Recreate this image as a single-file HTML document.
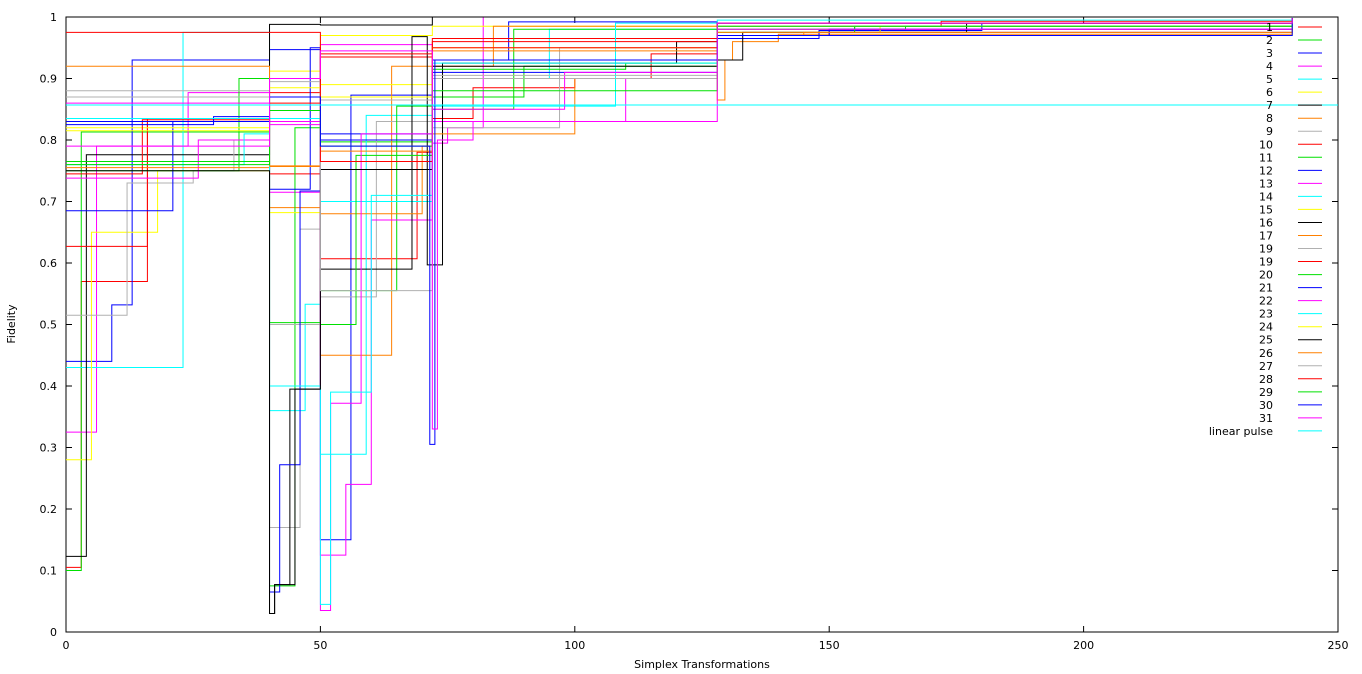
<!DOCTYPE html>
<html><head><meta charset="utf-8">
<style>
html,body{margin:0;padding:0;background:#fff;}
svg{display:block;font-family:"DejaVu Sans","Liberation Sans",sans-serif;font-size:11px;}
</style></head>
<body>
<svg id="chart" width="1362" height="674" xmlns="http://www.w3.org/2000/svg">
<g id="grid"></g>
<g id="plot"></g>
<g id="legend"></g>
<text x="702" y="668" text-anchor="middle">Simplex Transformations</text>
<text x="15" y="324" text-anchor="middle" transform="rotate(-90 15 324)">Fidelity</text>
</svg>
<script>
const xTicks = [0,50,100,150,200,250];
const yTicks = [0,0.1,0.2,0.3,0.4,0.5,0.6,0.7,0.8,0.9,1];
const seriesLabels = ["1","2","3","4","5","6","7","8","9","10","11","12","13","14","15","16","17","19","19","20","21","22","23","24","25","26","27","28","29","30","31","linear pulse"];
const palette = ["#ff0000","#00e000","#0000ff","#ff00ff","#00ffff","#ffff00","#000000","#ff8000","#b0b0b0"];
const s1=[[0,0.105],[3,0.57],[16,0.835],[40,0.745],[50,0.607],[69,0.78],[72,0.835],[80,0.885],[100,0.9],[115,0.94],[128,0.985],[172,0.993],[241,0.997]];
const s2=[[0,0.1],[3,0.813],[40,0.848],[50,0.797],[72,0.87],[90,0.92],[128,0.98],[155,0.985],[241,0.997]];
const s3=[[0,0.44],[9,0.532],[13,0.93],[40,0.947],[50,0.15],[56,0.873],[72,0.93],[87,0.992],[128,0.97],[148,0.978],[180,0.99],[241,0.998]];
const s4=[[0,0.325],[6,0.79],[24,0.877],[40,0.715],[50,0.955],[72,0.795],[75,0.82],[82,1],[241,1]];
const s5=[[0,0.43],[23,0.975],[40,0.36],[47,0.533],[50,0.289],[59,0.84],[72,0.9],[95,0.98],[128,0.99],[241,0.998]];
const s6=[[0,0.28],[5,0.65],[18,0.75],[40,0.912],[50,0.97],[72,0.985],[128,0.975],[160,0.985],[241,0.997]];
const s7=[[0,0.123],[4,0.776],[40,0.988],[50,0.987],[72,1],[241,1]];
const s8=[[0,0.92],[40,0.69],[50,0.45],[64,0.92],[72,0.92],[84,0.985],[128,0.865],[129.5,0.93],[131,0.96],[140,0.972],[241,0.997]];
const s9=[[0,0.515],[12,0.73],[25,0.75],[33,0.8],[40,0.17],[46,0.655],[50,0.545],[61,0.83],[72,0.82],[97,0.95],[128,0.99],[241,0.998]];
const s10=[[0,0.627],[16,0.83],[40,0.877],[50,0.935],[72,0.965],[128,0.97],[150,0.98],[241,0.997]];
const s11=[[0,0.75],[34,0.9],[40,0.075],[45,0.82],[50,0.555],[65,0.855],[72,0.85],[88,0.98],[128,0.975],[155,0.985],[241,0.997]];
const s12=[[0,0.685],[21,0.83],[40,0.72],[48,0.95],[50,0.81],[72,0.91],[100,0.91],[128,0.965],[148,0.975],[241,0.998]];
const s13=[[0,0.738],[26,0.8],[40,0.83],[50,0.125],[55,0.24],[60,0.67],[72,0.83],[110,0.9],[128,0.99],[241,0.998]];
const s14=[[0,0.76],[35,0.81],[40,0.835],[50,0.7],[72,0.855],[108,0.99],[128,0.995],[241,0.999]];
const s15=[[0,0.82],[40,0.682],[50,0.89],[72,0.9],[128,0.985],[241,0.997]];
const s16=[[0,0.835],[40,0.03],[41,0.077],[44,0.395],[50,0.59],[68,0.968],[71,0.597],[74,0.925],[120,0.96],[128,0.93],[133,0.975],[177,0.99],[241,0.997]];
const s17=[[0,0.755],[40,0.757],[50,0.68],[70,0.79],[72,0.81],[100,0.9],[128,0.97],[145,0.975],[241,0.997]];
const s18=[[0,0.87],[40,0.5],[50,0.865],[72,0.9],[128,0.98],[241,0.997]];
const s19=[[0,0.745],[15,0.833],[40,0.86],[50,0.94],[72,0.96],[128,0.99],[241,0.998]];
const s20=[[0,0.765],[40,0.503],[50,0.5],[57,0.775],[72,0.915],[110,0.925],[128,0.98],[165,0.985],[241,0.997]];
const s21=[[0,0.825],[29,0.838],[40,0.065],[42,0.272],[46,0.717],[50,0.8],[72,0.93],[128,0.97],[150,0.98],[241,0.998]];
const s22=[[0,0.86],[40,0.825],[50,0.035],[52,0.372],[58,0.81],[72,0.85],[98,0.91],[128,0.98],[241,0.998]];
const s23=[[0,0.835],[40,0.4],[50,0.045],[52,0.39],[60,0.71],[72,0.925],[128,0.99],[241,0.998]];
const s24=[[0,0.815],[40,0.885],[50,0.87],[72,0.95],[128,0.97],[241,0.997]];
const s25=[[0,0.75],[40,0.03],[41,0.077],[45,0.395],[50,0.752],[72,0.92],[128,0.99],[241,0.998]];
const s26=[[0,0.83],[40,0.758],[50,0.782],[72,0.945],[128,0.975],[241,0.997]];
const s27=[[0,0.88],[40,0.895],[50,0.555],[72,0.905],[128,0.985],[241,0.997]];
const s28=[[0,0.975],[50,0.765],[72,0.95],[128,0.99],[241,0.998]];
const s29=[[0,0.76],[40,0.848],[50,0.79],[72,0.88],[128,0.985],[241,0.997]];
const s30=[[0,0.83],[40,0.87],[50,0.79],[71.5,0.305],[72.5,0.93],[128,0.97],[241,0.998]];
const s31=[[0,0.79],[40,0.9],[50,0.945],[72,0.33],[73,0.8],[80,0.83],[128,0.99],[241,0.998]];
const linearPulse=[[0,0.857],[250,0.857]];
const allSeries=[s1,s2,s3,s4,s5,s6,s7,s8,s9,s10,s11,s12,s13,s14,s15,s16,s17,s18,s19,s20,s21,s22,s23,s24,s25,s26,s27,s28,s29,s30,s31,linearPulse];

const NS="http://www.w3.org/2000/svg";
const X0=66,X1=1338,Y0=632,Y1=17;
const xs=v=>X0+(v-0)/250*(X1-X0);
const ys=v=>Y0-v*(Y0-Y1);
function mk(tag,attrs,parent){const e=document.createElementNS(NS,tag);for(const k in attrs)e.setAttribute(k,attrs[k]);parent.appendChild(e);return e;}
const grid=document.getElementById('grid'),plot=document.getElementById('plot'),legend=document.getElementById('legend');

yTicks.forEach(t=>{
  const y=ys(t);
  const l=mk('path',{d:`M${X0} ${y}h6M${X1} ${y}h-6`,stroke:'#000','stroke-width':1},grid);
  
  
  const tx=mk('text',{x:X0-9,y:y+4,'text-anchor':'end'},grid);
  tx.textContent=String(t);
  
  
});
xTicks.forEach(t=>{
  const x=xs(t);
  const l=mk('path',{d:`M${x} ${Y0}v-6M${x} ${Y1}v6`,stroke:'#000','stroke-width':1},grid);
  
  
  const tx=mk('text',{x:x,y:Y0+17,'text-anchor':'middle'},grid);
  tx.textContent=String(t);
  
  
});

allSeries.forEach((pts,i)=>{
  const isPulse=i===allSeries.length-1;
  const col=isPulse?"#00ffff":palette[i%palette.length];
  let d=`M${xs(pts[0][0])} ${ys(pts[0][1])}`;
  for(let k=1;k<pts.length;k++){d+=`H${xs(pts[k][0])}V${ys(pts[k][1])}`;}
  const p=mk('path',{d:d,fill:'none',stroke:col,'stroke-width':1},plot);
  
  
  const ly=27+i*13.03;
  const lt=mk('text',{x:1273,y:ly+4,'text-anchor':'end'},legend);
  lt.textContent=seriesLabels[i];
  
  
  const ll=mk('line',{x1:1298,x2:1322,y1:ly,y2:ly,stroke:col,'stroke-width':1},legend);
  
  
});
const b=mk('rect',{x:X0,y:Y1,width:X1-X0,height:Y0-Y1,fill:'none',stroke:'#000','stroke-width':1},grid);


</script>
</body></html>
